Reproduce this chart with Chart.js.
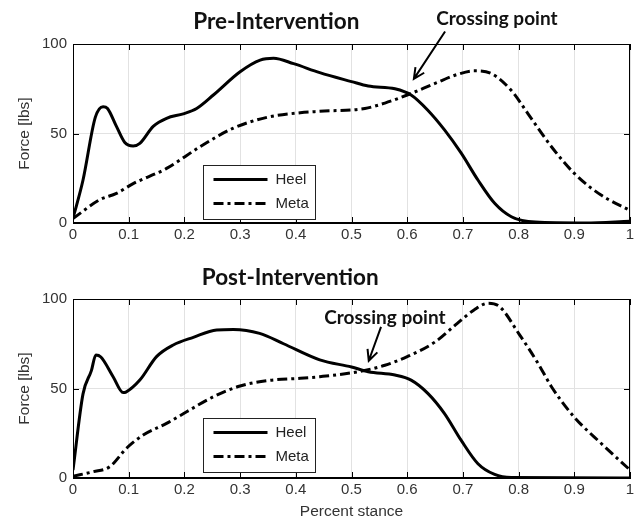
<!DOCTYPE html>
<html>
<head>
<meta charset="utf-8">
<script src="https://cdn.jsdelivr.net/npm/chart.js@4.4.1/dist/chart.umd.min.js"></script>
<style>
  html, body { margin: 0; padding: 0; background: #fff; }
  #wrap { position: relative; width: 638px; height: 523px; }
  canvas { position: absolute; left: 0; }
  #preChart { top: 0; }
  #postChart { top: 250px; }
</style>
</head>
<body>
<div id="wrap">
  <canvas id="preChart" width="638" height="250"></canvas>
  <canvas id="postChart" width="638" height="273"></canvas>
</div>
<script>
// ─── Data ─────────────────────────────────────────────────────────────────────

const xTicks = [0, 0.1, 0.2, 0.3, 0.4, 0.5, 0.6, 0.7, 0.8, 0.9, 1];
const yTicks = [0, 50, 100];
const seriesNames = ['Heel', 'Meta'];

// Pre-intervention (percent stance vs force)
const preHeelX = [0, 0.018, 0.04, 0.054, 0.062, 0.078, 0.093, 0.108, 0.12, 0.144, 0.168, 0.198, 0.222, 0.252, 0.3, 0.336, 0.36, 0.396, 0.443, 0.5, 0.53, 0.578, 0.607, 0.637, 0.667, 0.697, 0.727, 0.757, 0.787, 0.83, 0.92, 1];
const preHeel = [2.6, 24, 59, 65, 64, 54, 45, 43, 44.5, 54, 58.5, 61, 64, 71.5, 84.5, 91, 92, 89, 84, 79, 76.5, 75, 71.5, 63, 52, 39, 24, 11, 3.5, 0.5, 0, 1];
const preMetaX = [0, 0.048, 0.078, 0.108, 0.168, 0.228, 0.288, 0.348, 0.408, 0.443, 0.524, 0.56, 0.6, 0.65, 0.69, 0.72, 0.75, 0.787, 0.817, 0.859, 0.9, 0.948, 1];
const preMeta = [2.5, 13, 16.5, 22, 30.5, 42.6, 53, 59, 61.6, 62.4, 64, 67, 71.5, 78, 83, 85, 83.6, 74, 61, 42.6, 27.7, 15.6, 7];

// Post-intervention
const postHeelX = [0, 0.018, 0.033, 0.041, 0.05, 0.072, 0.09, 0.095, 0.12, 0.15, 0.18, 0.216, 0.258, 0.288, 0.335, 0.378, 0.443, 0.5, 0.53, 0.578, 0.607, 0.637, 0.667, 0.697, 0.727, 0.757, 0.787, 1];
const postHeel = [4.5, 47, 60, 68.7, 67.6, 56.6, 47.7, 48, 54.7, 67.8, 74.3, 78.6, 82.7, 83, 80.8, 75, 66, 62, 59.4, 57.5, 54.7, 47.3, 36, 21, 8, 2, 0.3, 0];
const postMetaX = [0, 0.036, 0.066, 0.096, 0.126, 0.168, 0.204, 0.252, 0.3, 0.348, 0.408, 0.443, 0.512, 0.56, 0.6, 0.65, 0.69, 0.72, 0.745, 0.766, 0.8, 0.835, 0.859, 0.9, 0.948, 1];
const postMeta = [1, 3.5, 6.3, 16.6, 24, 30.5, 37, 45.4, 51.4, 54.4, 55.7, 56.6, 59.4, 63, 67.8, 76, 86.4, 93.9, 97.6, 95.7, 80.8, 64, 51, 34, 19.4, 4.5];

// ─── Helpers ──────────────────────────────────────────────────────────────────

const TICK_FONT = { family: '"Liberation Sans", Arial, sans-serif', size: 15 };
const AXIS_FONT = { family: '"Liberation Sans", Arial, sans-serif', size: 15.5 };
const HEAD_FONT = 'bold 22.5px Lato, "Open Sans", sans-serif';
const NOTE_FONT = 'bold 19px Lato, "Open Sans", sans-serif';

function toPoints(xs, ys) {
  return xs.map((x, i) => ({ x, y: ys[i] }));
}

function lineDataset(label, xs, ys, dash) {
  return {
    label,
    data: toPoints(xs, ys),
    borderColor: '#000',
    borderWidth: 3,
    borderDash: dash,
    pointRadius: 0,
    cubicInterpolationMode: 'monotone',
    fill: false,
  };
}

// Inward ticks, full box, heading, legend and the crossing-point note
const framePlugin = {
  id: 'frame',
  afterDatasetsDraw(chart, args, opts) {
    const { ctx, chartArea: a, scales: { x, y } } = chart;
    ctx.save();

    // box
    ctx.strokeStyle = '#000';
    ctx.lineWidth = 1;
    ctx.strokeRect(a.left + 0.5, a.top + 0.5, a.right - a.left - 1, a.bottom - a.top - 1);

    // ticks pointing inward on all four sides
    ctx.beginPath();
    xTicks.forEach(v => {
      const px = Math.round(x.getPixelForValue(v)) + 0.5;
      ctx.moveTo(px, a.bottom); ctx.lineTo(px, a.bottom - 6);
      ctx.moveTo(px, a.top); ctx.lineTo(px, a.top + 6);
    });
    yTicks.forEach(v => {
      const py = Math.round(y.getPixelForValue(v)) + 0.5;
      ctx.moveTo(a.left, py); ctx.lineTo(a.left + 6, py);
      ctx.moveTo(a.right, py); ctx.lineTo(a.right - 6, py);
    });
    ctx.stroke();

    // heading
    ctx.fillStyle = '#111';
    ctx.font = HEAD_FONT;
    ctx.textAlign = 'center';
    ctx.textBaseline = 'middle';
    ctx.fillText(opts.heading, x.getPixelForValue(opts.headingX), a.top - opts.headingDy);

    // crossing point note + arrow
    ctx.font = NOTE_FONT;
    ctx.fillText(opts.note, x.getPixelForValue(opts.noteAt[0]), y.getPixelForValue(opts.noteAt[1]));
    const tx = x.getPixelForValue(opts.arrowFrom[0]), ty = y.getPixelForValue(opts.arrowFrom[1]);
    const hx = x.getPixelForValue(opts.arrowTo[0]), hy = y.getPixelForValue(opts.arrowTo[1]);
    const ang = Math.atan2(hy - ty, hx - tx);
    ctx.lineWidth = 2;
    ctx.beginPath();
    ctx.moveTo(tx, ty); ctx.lineTo(hx, hy);
    ctx.moveTo(hx - 12 * Math.cos(ang - 0.45), hy - 12 * Math.sin(ang - 0.45));
    ctx.lineTo(hx, hy);
    ctx.lineTo(hx - 12 * Math.cos(ang + 0.45), hy - 12 * Math.sin(ang + 0.45));
    ctx.stroke();

    // legend box in the lower middle of the axes
    const bx = a.left + 130.5, by = a.top + opts.legendTop + 0.5, bw = 112, bh = 54;
    ctx.fillStyle = '#fff';
    ctx.fillRect(bx, by, bw, bh);
    ctx.strokeStyle = '#222';
    ctx.lineWidth = 1;
    ctx.strokeRect(bx, by, bw, bh);
    chart.data.datasets.forEach((ds, i) => {
      const ly = by + 14 + i * 24;
      ctx.strokeStyle = '#000';
      ctx.lineWidth = 3;
      ctx.setLineDash(ds.borderDash || []);
      ctx.beginPath();
      ctx.moveTo(bx + 10, ly); ctx.lineTo(bx + 64, ly);
      ctx.stroke();
      ctx.setLineDash([]);
      ctx.fillStyle = '#222';
      ctx.font = '15px "Liberation Sans", Arial, sans-serif';
      ctx.textAlign = 'left';
      ctx.fillText(ds.label, bx + 72, ly);
    });

    ctx.restore();
  },
};

function buildChart(id, heelX, heel, metaX, meta, cfg) {
  return new Chart(document.getElementById(id), {
    type: 'line',
    data: {
      datasets: [
        lineDataset(seriesNames[0], heelX, heel, []),
        lineDataset(seriesNames[1], metaX, meta, [10, 4, 3, 4]),
      ],
    },
    options: {
      responsive: false,
      animation: false,
      devicePixelRatio: 1,
      layout: { padding: { top: cfg.padTop, right: 8, left: 0, bottom: 0 } },
      plugins: {
        legend: { display: false },
        tooltip: { enabled: false },
        frame: cfg.frame,
      },
      scales: {
        x: {
          type: 'linear',
          min: 0,
          max: 1,
          afterBuildTicks: s => { s.ticks = xTicks.map(v => ({ value: v })); },
          afterFit: s => { s.height = cfg.xHeight; },
          ticks: { color: '#333', font: TICK_FONT, padding: 3, maxRotation: 0,
                   callback: v => String(v) },
          grid: { color: '#e2e2e2', drawTicks: false },
          border: { color: '#000' },
          title: {
            display: cfg.xTitle,
            text: 'Percent stance',
            color: '#333',
            font: AXIS_FONT,
            padding: { top: 0, bottom: 2 },
          },
        },
        y: {
          min: 0,
          max: 100,
          afterBuildTicks: s => { s.ticks = yTicks.map(v => ({ value: v })); },
          afterFit: s => { s.width = 73; },
          ticks: { color: '#333', font: TICK_FONT, padding: 6 },
          grid: { color: '#e2e2e2', drawTicks: false },
          border: { color: '#000' },
          title: {
            display: true,
            text: 'Force [lbs]',
            color: '#333',
            font: AXIS_FONT,
            padding: { top: 15, bottom: 0 },
          },
        },
      },
    },
    plugins: [framePlugin],
  });
}

// ─── Charts ───────────────────────────────────────────────────────────────────

buildChart('preChart', preHeelX, preHeel, preMetaX, preMeta, {
  padTop: 44,
  xHeight: 27,
  xTitle: false,
  frame: {
    heading: 'Pre-Intervention',
    headingX: 0.365,
    headingDy: 22,
    note: 'Crossing point',
    noteAt: [0.761, 114],
    arrowFrom: [0.668, 107],
    arrowTo: [0.612, 80.5],
    legendTop: 121,
  },
});

buildChart('postChart', postHeelX, postHeel, postMetaX, postMeta, {
  padTop: 49,
  xHeight: 45,
  xTitle: true,
  frame: {
    heading: 'Post-Intervention',
    headingX: 0.39,
    headingDy: 21.5,
    note: 'Crossing point',
    noteAt: [0.56, 89.4],
    arrowFrom: [0.553, 84.4],
    arrowTo: [0.531, 65.5],
    legendTop: 119,
  },
});
</script>
</body>
</html>
